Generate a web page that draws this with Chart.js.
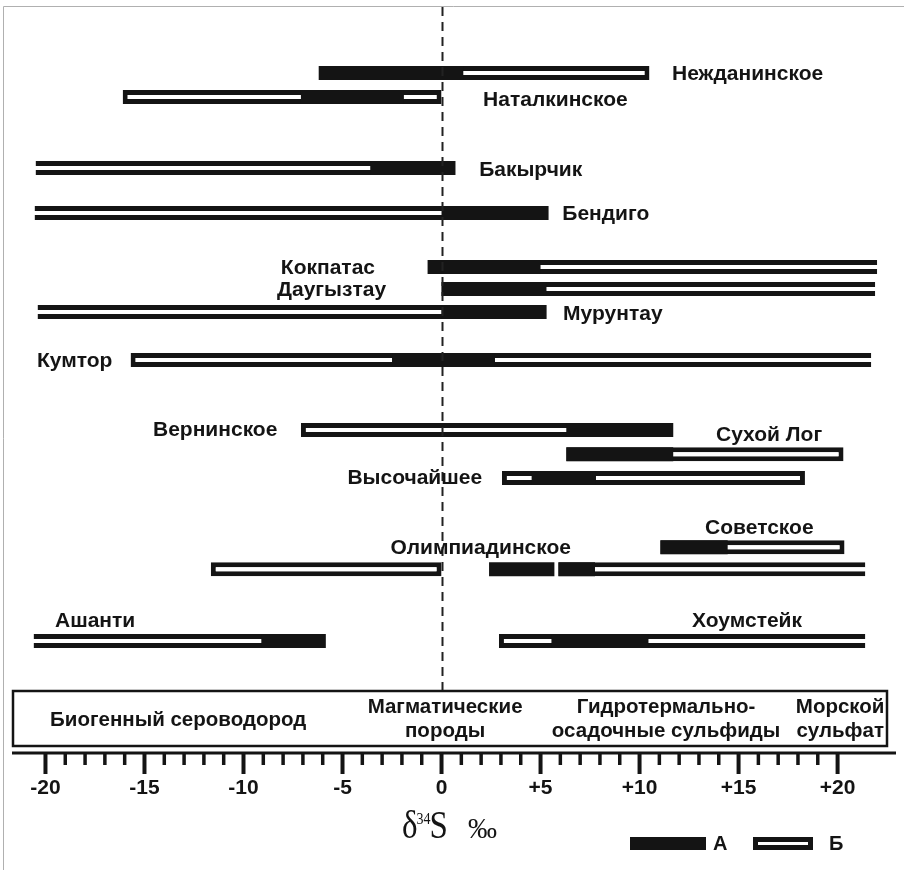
<!DOCTYPE html>
<html>
<head>
<meta charset="utf-8">
<script src="https://cdn.jsdelivr.net/npm/chart.js@4.4.1/dist/chart.umd.min.js"></script>
<style>
  html, body { margin: 0; padding: 0; background: #ffffff; }
  canvas { display: block; }
</style>
</head>
<body>
<canvas id="chart" width="904" height="870"></canvas>
<script>
// Ore deposits, listed from top to bottom
const deposits = [
  'Нежданинское', 'Наталкинское', 'Бакырчик', 'Бендиго', 'Кокпатас',
  'Даугызтау', 'Мурунтау', 'Кумтор', 'Вернинское', 'Сухой Лог',
  'Высочайшее', 'Советское', 'Олимпиадинское', 'Ашанти', 'Хоумстейк'
];

// δ34S ranges, ‰ — type А (solid bars)
const rangesA = [
  [[-6.2, 1.1]],
  [[-7.1, -1.9]],
  [[-3.6, 0.7]],
  [[0, 5.4]],
  [[-0.7, 5.0]],
  [[0, 5.3]],
  [[0, 5.3]],
  [[-2.5, 2.7]],
  [[6.3, 11.7]],
  [[6.3, 11.7]],
  [[4.55, 7.8]],
  [[11.05, 14.45]],
  [[2.4, 5.7], [5.9, 7.75]],
  [[-9.1, -5.85]],
  [[5.55, 10.45]]
];

// δ34S ranges, ‰ — type Б (hollow bars)
const rangesB = [
  [[-6.2, 10.5]],
  [[-16.1, 0]],
  [[-20.5, 0.7]],
  [[-20.55, 5.4]],
  [[-0.7, 22.0]],
  [[0, 21.9]],
  [[-20.4, 5.3]],
  [[-15.7, 21.7]],
  [[-7.1, 11.7]],
  [[6.3, 20.3]],
  [[3.05, 18.35]],
  [[11.05, 20.35]],
  [[-11.65, 0], [5.9, 21.4]],
  [[-20.6, -5.85]],
  [[2.9, 21.4]]
];

// Б ranges that continue past the drawn end (left / right / none)
const openB = [
  [null], [null], ['left'], ['left'], ['right'],
  ['right'], ['left'], ['right'], [null], [null],
  [null], [null], [null, 'right'], ['left'], ['right']
];

// Row placement of each deposit on the vertical axis (row units)
const rowSlot = [0, 1.03, 4.1, 6.04, 8.37, 9.32, 10.31, 12.38, 15.4, 16.44, 17.47, 20.45, 21.4, 24.5, 24.5];

// Where each deposit name sits: [δ34S value, text alignment, row units]
const namePlace = [
  [11.64, 'left', 0], [2.1, 'left', 1.12], [1.9, 'left', 4.14], [6.1, 'left', 6.04],
  [-3.36, 'right', 8.37], [-2.8, 'right', 9.32], [6.14, 'left', 10.35], [-20.43, 'left', 12.4],
  [-14.57, 'left', 15.36], [13.86, 'left', 15.58], [2.05, 'right', 17.43], [13.31, 'left', 19.58],
  [6.54, 'right', 20.45], [-19.52, 'left', 23.6], [12.65, 'left', 23.6]
];

// Axis ticks
const tickMin = -20, tickMax = 20, majorStep = 5;
const tickLabels = ['-20', '-15', '-10', '-5', '0', '+5', '+10', '+15', '+20'];

// Sulfur source fields under the plot
const sourceZones = [
  { lines: ['Биогенный сероводород'], at: -13.3 },
  { lines: ['Магматические', 'породы'], at: 0.18 },
  { lines: ['Гидротермально-', 'осадочные сульфиды'], at: 11.34 },
  { lines: ['Морской', 'сульфат'], at: 20.13 }
];

const legendItems = ['А', 'Б'];

const INK = '#141414';
const SANS = '"Liberation Sans", Arial, Helvetica, sans-serif';
const SERIF = '"Liberation Serif", "Times New Roman", serif';

// Build floating-bar datasets
const dataA = [];
const dataB = [];
deposits.forEach((name, i) => {
  rangesA[i].forEach(r => dataA.push({ x: r, y: rowSlot[i], name }));
  rangesB[i].forEach((r, k) => dataB.push({ x: r, y: rowSlot[i], name, open: openB[i][k] }));
});

const BAR = 14;

// Decorations: zero line, source box, axis with ticks, axis title, legend, names
const decorations = {
  id: 'decorations',
  afterDatasetsDraw(chart) {
    const { ctx, scales: { x, y } } = chart;
    ctx.save();
    // dashed zero line
    const zx = Math.round(x.getPixelForValue(0)) + 0.5;
    ctx.strokeStyle = '#222';
    ctx.lineWidth = 2;
    ctx.setLineDash([9, 6]);
    ctx.beginPath();
    ctx.moveTo(zx, 7);
    ctx.lineTo(zx, 691);
    ctx.stroke();
    ctx.setLineDash([]);

    // deposit names
    ctx.fillStyle = INK;
    ctx.font = 'bold 21px ' + SANS;
    ctx.textBaseline = 'middle';
    deposits.forEach((name, i) => {
      const [v, align, slot] = namePlace[i];
      ctx.textAlign = align;
      ctx.fillText(name, x.getPixelForValue(v), y.getPixelForValue(slot) + 1);
    });
    ctx.restore();
  },
  afterDraw(chart) {
    const { ctx, chartArea, scales: { x } } = chart;
    const L = chartArea.left, R = chartArea.right, B = chartArea.bottom;
    ctx.save();

    // image frame
    ctx.strokeStyle = '#b0b0b0';
    ctx.lineWidth = 1;
    ctx.beginPath();
    ctx.moveTo(3.5, 870);
    ctx.lineTo(3.5, 6.5);
    ctx.lineTo(904, 6.5);
    ctx.stroke();

    // source box
    ctx.strokeStyle = INK;
    ctx.lineWidth = 2.5;
    ctx.strokeRect(L + 1, 691, 874, 55);
    ctx.fillStyle = INK;
    ctx.font = 'bold 20.5px ' + SANS;
    ctx.textAlign = 'center';
    ctx.textBaseline = 'middle';
    sourceZones.forEach(z => {
      const cx = x.getPixelForValue(z.at);
      if (z.lines.length === 1) {
        ctx.fillText(z.lines[0], cx, 720);
      } else {
        ctx.fillText(z.lines[0], cx, 707);
        ctx.fillText(z.lines[1], cx, 731);
      }
    });

    // axis line
    ctx.lineWidth = 3;
    ctx.beginPath();
    ctx.moveTo(L, B);
    ctx.lineTo(R, B);
    ctx.stroke();

    // ticks
    for (let v = tickMin; v <= tickMax; v++) {
      const px = x.getPixelForValue(v);
      const major = v % majorStep === 0;
      ctx.lineWidth = major ? 4 : 3.5;
      ctx.beginPath();
      ctx.moveTo(px, B);
      ctx.lineTo(px, B + (major ? 21 : 12));
      ctx.stroke();
    }
    ctx.font = 'bold 21px ' + SANS;
    tickLabels.forEach((t, k) => {
      ctx.fillText(t, x.getPixelForValue(tickMin + k * majorStep), 788);
    });

    // axis title: δ34S ‰
    const cx = (L + R) / 2 - 52;
    ctx.textAlign = 'left';
    ctx.textBaseline = 'alphabetic';
    ctx.save();
    ctx.translate(cx, 838);
    ctx.scale(1, 1.2);
    ctx.font = '33px ' + SERIF;
    ctx.fillText('δ', 0, 0);
    const w = ctx.measureText('δ').width;
    ctx.font = '14px ' + SERIF;
    ctx.fillText('34', w - 1, -12);
    const w2 = ctx.measureText('34').width;
    ctx.font = '33px ' + SERIF;
    ctx.fillText('S', w + w2 - 2, 0);
    ctx.restore();
    ctx.font = '29px ' + SERIF;
    ctx.fillText('‰', cx + 66, 838);

    // legend
    ctx.fillStyle = INK;
    ctx.fillRect(630, 837, 76, 13);
    ctx.fillRect(753, 837, 60, 13);
    ctx.fillStyle = '#ffffff';
    ctx.fillRect(758, 842, 50, 3);
    ctx.fillStyle = INK;
    ctx.font = 'bold 20px ' + SANS;
    ctx.textBaseline = 'middle';
    ctx.fillText(legendItems[0], 713, 844);
    ctx.fillText(legendItems[1], 829, 844);
    ctx.restore();
  }
};

new Chart(document.getElementById('chart'), {
  type: 'bar',
  data: {
    datasets: [
      {
        label: 'А',
        data: dataA,
        order: 0,
        grouped: false,
        barThickness: BAR,
        backgroundColor: INK,
        borderWidth: 0,
        inflateAmount: 0
      },
      {
        label: 'Б',
        data: dataB,
        order: 1,
        grouped: false,
        barThickness: BAR,
        backgroundColor: '#ffffff',
        borderColor: INK,
        borderSkipped: false,
        inflateAmount: 0,
        borderWidth: (c) => {
          const open = c.raw && c.raw.open;
          return { top: 5, bottom: 5, left: open === 'left' ? 0 : 5, right: open === 'right' ? 0 : 5 };
        }
      }
    ]
  },
  options: {
    indexAxis: 'y',
    responsive: false,
    animation: false,
    layout: { padding: { left: 12, right: 8, top: 0, bottom: 117 } },
    scales: {
      x: { type: 'linear', min: -21.69, max: 22.95, display: false },
      y: { type: 'linear', min: -3.15, max: 29.33, reverse: true, offset: false, display: false }
    },
    plugins: {
      legend: { display: false },
      tooltip: { enabled: false }
    }
  },
  plugins: [decorations]
});
</script>
</body>
</html>
